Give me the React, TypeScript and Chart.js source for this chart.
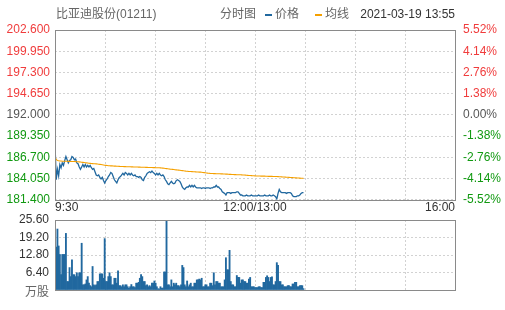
import React, { useEffect, useRef } from 'react';
import { Chart, registerables } from 'chart.js';

Chart.register(...registerables);

const FONT = '"Liberation Sans", Arial, "Noto Sans CJK SC", sans-serif';

const stockTitle = '比亚迪股份(01211)';
const chartKind = '分时图';
const legendPrice = '价格';
const legendAvg = '均线';
const stampText = '2021-03-19 13:55';
const volUnit = '万股';

const timeLabels = ['9:30', '12:00/13:00', '16:00'];
const totalSlots = 330;
const prevClose = 192.0;

const priceTicks = [181.4, 184.05, 186.7, 189.35, 192.0, 194.65, 197.3, 199.95, 202.6];
const priceTickLabels = ['181.400', '184.050', '186.700', '189.350', '192.000', '194.650', '197.300', '199.950', '202.600'];
const pctTicks = [-5.52, -4.14, -2.76, -1.38, 0, 1.38, 2.76, 4.14, 5.52];
const pctTickLabels = ['-5.52%', '-4.14%', '-2.76%', '-1.38%', '0.00%', '1.38%', '2.76%', '4.14%', '5.52%'];
const volTicks = [0, 6.4, 12.8, 19.2, 25.6];
const volTickLabels = ['', '6.40', '12.80', '19.20', '25.60'];

const price = [
  188.5, 183.9, 185.2, 184.4, 185.8, 185.4, 186.0, 185.7, 186.3, 186.8,
  186.4, 186.0, 186.3, 186.4, 186.8, 186.7, 186.4, 186.5, 186.0, 185.9,
  185.5, 185.2, 185.5, 185.8, 185.5, 185.8, 185.5, 185.7, 185.5, 185.7,
  185.4, 185.2, 185.3, 184.9, 184.5, 184.4, 184.5, 184.2, 184.0, 184.2,
  183.8, 183.5, 183.8, 184.0, 184.3, 184.5, 184.8, 184.7, 184.3, 183.9,
  183.7, 183.5, 183.9, 184.2, 184.3, 184.5, 184.7, 184.5, 184.8, 184.7,
  184.5, 184.7, 184.5, 184.7, 184.5, 184.4, 184.5, 184.3, 184.3, 184.2,
  184.3, 184.2, 183.9, 183.8, 184.2, 184.4, 184.7, 184.8, 184.9, 184.8,
  185.0, 184.8, 184.7, 184.5, 184.7, 184.5, 184.7, 184.5, 184.4, 184.5,
  184.3, 183.9, 183.7, 183.4, 183.3, 183.5, 183.7, 183.5, 183.4, 183.5,
  183.8, 183.9, 183.8, 183.7, 183.4, 183.0, 182.8, 182.7, 182.9, 183.0,
  183.0, 183.2, 183.0, 183.2, 183.0, 183.2, 183.0, 182.9, 182.9, 182.9,
  182.9, 182.8, 182.9, 182.9, 182.8, 182.9, 182.9, 182.9, 182.8, 182.9,
  182.9, 183.0, 183.0, 183.2, 183.0, 183.0, 182.8, 182.7, 182.4, 182.3,
  182.2, 182.0, 182.3, 182.3, 182.3, 182.2, 182.3, 182.3, 182.3, 182.3,
  182.4, 182.4, 182.2, 182.0, 182.0, 181.9, 181.9, 181.9, 182.0, 181.9,
  181.9, 181.9, 182.0, 181.9, 181.9, 181.9, 181.9, 181.9, 182.0, 181.9,
  181.9, 181.9, 181.9, 182.0, 181.9, 181.9, 181.9, 182.0, 181.9, 181.9,
  182.0, 181.9, 181.8, 181.5, 182.2, 182.7, 182.4, 182.3, 182.3, 182.3,
  182.3, 182.2, 182.3, 182.3, 182.3, 182.2, 181.9, 181.8, 181.8, 181.8,
  181.9, 181.9, 182.0, 182.2, 182.3, 182.3,
];

const avgPrice = [
  186.80, 186.45, 186.30, 186.28, 186.25, 186.24, 186.22, 186.22, 186.21, 186.21,
  186.21, 186.20, 186.20, 186.19, 186.19, 186.18, 186.18, 186.17, 186.16, 186.15,
  186.13, 186.11, 186.09, 186.07, 186.05, 186.03, 186.01, 185.99, 185.97, 185.95,
  185.93, 185.92, 185.91, 185.90, 185.88, 185.86, 185.84, 185.82, 185.80, 185.78,
  185.75, 185.72, 185.70, 185.68, 185.66, 185.65, 185.64, 185.63, 185.62, 185.61,
  185.60, 185.59, 185.58, 185.57, 185.56, 185.55, 185.55, 185.54, 185.54, 185.53,
  185.53, 185.52, 185.52, 185.51, 185.51, 185.50, 185.50, 185.49, 185.49, 185.48,
  185.48, 185.47, 185.47, 185.46, 185.46, 185.45, 185.45, 185.44, 185.44, 185.43,
  185.43, 185.42, 185.42, 185.41, 185.41, 185.40, 185.40, 185.39, 185.37, 185.35,
  185.33, 185.31, 185.29, 185.27, 185.25, 185.23, 185.22, 185.20, 185.18, 185.16,
  185.14, 185.12, 185.10, 185.08, 185.06, 185.04, 185.02, 185.00, 184.98, 184.97,
  184.95, 184.94, 184.93, 184.92, 184.91, 184.90, 184.89, 184.88, 184.87, 184.86,
  184.85, 184.83, 184.81, 184.79, 184.77, 184.75, 184.73, 184.72, 184.70, 184.69,
  184.68, 184.67, 184.67, 184.66, 184.66, 184.65, 184.65, 184.64, 184.64, 184.63,
  184.62, 184.61, 184.60, 184.59, 184.58, 184.57, 184.56, 184.55, 184.54, 184.54,
  184.53, 184.53, 184.52, 184.52, 184.51, 184.50, 184.49, 184.48, 184.46, 184.45,
  184.44, 184.43, 184.42, 184.41, 184.40, 184.39, 184.38, 184.38, 184.37, 184.37,
  184.36, 184.36, 184.35, 184.35, 184.34, 184.34, 184.33, 184.33, 184.32, 184.32,
  184.31, 184.31, 184.30, 184.30, 184.29, 184.28, 184.27, 184.26, 184.25, 184.24,
  184.23, 184.22, 184.21, 184.20, 184.19, 184.18, 184.17, 184.16, 184.15, 184.14,
  184.13, 184.12, 184.11, 184.10, 184.09, 184.08,
];

const volume = [
  15.7, 15.7, 22.3, 16.1, 13.0, 5.6, 13.0, 13.0, 13.0, 20.7,
  3.1, 3.1, 8.2, 4.9, 11.0, 5.6, 5.6, 4.9, 6.3, 4.9,
  6.3, 6.3, 17.1, 1.9, 1.9, 2.2, 3.7, 4.9, 2.5, 1.6,
  1.2, 8.6, 1.9, 1.6, 1.9, 3.1, 3.1, 5.9, 5.9, 5.9,
  4.3, 18.8, 3.1, 3.1, 4.9, 6.3, 4.9, 1.9, 1.9, 4.3,
  4.3, 2.5, 7.0, 1.6, 1.6, 1.2, 1.9, 1.2, 1.9, 1.9,
  1.2, 0.6, 1.2, 2.0, 1.2, 1.2, 0.9, 2.5, 2.5, 2.8,
  4.3, 5.6, 4.9, 3.1, 3.1, 1.6, 1.9, 1.2, 1.6, 1.2,
  2.5, 2.5, 3.3, 2.5, 1.2, 0.4, 0.4, 1.2, 0.7, 0.7,
  6.6, 6.6, 25.6, 1.9, 1.9, 1.2, 3.7, 1.2, 2.5, 1.9,
  2.5, 1.6, 1.6, 1.2, 1.9, 9.0, 8.2, 1.9, 1.2, 3.3,
  1.2, 1.9, 2.5, 1.2, 1.2, 2.5, 2.5, 3.7, 3.7, 4.0,
  3.7, 4.3, 1.2, 1.2, 1.9, 1.9, 1.2, 1.2, 2.5, 2.5,
  1.6, 6.3, 1.9, 3.1, 3.1, 2.5, 2.5, 1.2, 1.2, 1.2,
  3.7, 11.8, 7.4, 7.4, 14.5, 3.1, 1.9, 1.9, 1.2, 1.2,
  5.3, 4.6, 4.6, 2.5, 3.7, 3.7, 3.1, 3.1, 2.5, 2.5,
  4.0, 4.6, 1.2, 1.2, 1.2, 0.9, 0.9, 0.9, 1.2, 1.2,
  0.9, 0.9, 2.8, 2.8, 4.6, 5.2, 4.6, 3.1, 4.6, 4.8,
  1.9, 1.9, 3.1, 10.0, 9.0, 3.1, 3.1, 1.9, 1.9, 1.2,
  1.2, 1.2, 1.6, 1.6, 1.2, 1.2, 2.2, 2.2, 2.8, 2.8,
  1.2, 1.2, 1.6, 1.6, 1.6, 0.5,
];

const BLUE = '#21689f';
const ORANGE = '#f5a000';
const RED = '#f03c3c';
const GREEN = '#119911';
const NEUTRAL = '#555555';
const GRID = '#d2d2d2';
const FRAME = '#8a8a8a';

const gridDivs = 8;
const xGridTicks = Array.from({ length: gridDivs + 1 }, (_, k) => (k * totalSlots) / gridDivs);

const framePlugin = {
  id: 'frame',
  afterDraw(chart: any) {
    const { ctx, chartArea } = chart;
    const l = Math.round(chartArea.left);
    const t = Math.round(chartArea.top);
    const r = Math.round(chartArea.right);
    const b = Math.round(chartArea.bottom);
    ctx.save();
    ctx.strokeStyle = FRAME;
    ctx.lineWidth = 1;
    ctx.strokeRect(l + 0.5, t + 0.5, r - l, b - t);
    ctx.restore();
  },
};

const headerPlugin = {
  id: 'header',
  afterDraw(chart: any) {
    const { ctx } = chart;
    ctx.save();
    ctx.font = `12px ${FONT}`;
    ctx.textBaseline = 'middle';
    ctx.textAlign = 'left';
    ctx.fillStyle = '#666666';
    const y = 15;
    ctx.fillText(stockTitle, 56, y);
    ctx.fillText(chartKind, 220, y);
    ctx.fillStyle = BLUE;
    ctx.fillRect(265, 14, 7, 2);
    ctx.fillStyle = '#666666';
    ctx.fillText(legendPrice, 275, y);
    ctx.fillStyle = ORANGE;
    ctx.fillRect(315, 14, 7, 2);
    ctx.fillStyle = '#666666';
    ctx.fillText(legendAvg, 325, y);
    ctx.textAlign = 'right';
    ctx.fillStyle = '#333333';
    ctx.fillText(stampText, 455, y);
    ctx.restore();
  },
};

const unitPlugin = {
  id: 'unit',
  afterDraw(chart: any) {
    const { ctx, chartArea } = chart;
    ctx.save();
    ctx.font = `12px ${FONT}`;
    ctx.textBaseline = 'middle';
    ctx.textAlign = 'right';
    ctx.fillStyle = '#666666';
    ctx.fillText(volUnit, chartArea.left - 6, chartArea.bottom + 3);
    ctx.restore();
  },
};

const colorFor = (v: number, base: number) =>
  Math.abs(v - base) < 1e-6 ? NEUTRAL : v > base ? RED : GREEN;

export default function App() {
  const topRef = useRef<HTMLCanvasElement>(null);
  const volRef = useRef<HTMLCanvasElement>(null);

  useEffect(() => {
    Chart.defaults.font.family = FONT;
    Chart.defaults.font.size = 12;

    const xCommon = (showLabels: boolean, height: number) => ({
      type: 'linear' as const,
      min: 0,
      max: totalSlots,
      offset: false,
      afterBuildTicks: (s: any) => {
        s.ticks = xGridTicks.map((v) => ({ value: v }));
      },
      afterFit: (s: any) => {
        s.height = height;
      },
      ticks: {
        display: showLabels,
        autoSkip: false,
        maxRotation: 0,
        minRotation: 0,
        align: 'inner' as const,
        padding: 1,
        color: '#333333',
        callback: (_v: any, i: number) => (i % 4 === 0 ? timeLabels[i / 4] : ''),
      },
      grid: { color: GRID, drawTicks: false, offset: false, lineWidth: 1 },
      border: { display: false, dash: [2, 2] },
    });

    const top = new Chart(topRef.current!, {
      type: 'line',
      data: {
        datasets: [
          {
            label: legendAvg,
            data: avgPrice.map((v, i) => ({ x: i, y: v })),
            borderColor: ORANGE,
            borderWidth: 1.1,
            pointRadius: 0,
            tension: 0,
            yAxisID: 'y',
          },
          {
            label: legendPrice,
            data: price.map((v, i) => ({ x: i, y: v })),
            borderColor: BLUE,
            borderWidth: 1.3,
            pointRadius: 0,
            tension: 0,
            yAxisID: 'y',
          },
        ],
      },
      options: {
        animation: false,
        responsive: false,
        maintainAspectRatio: false,
        layout: { padding: { top: 30, left: 0, right: 0, bottom: 0 } },
        plugins: { legend: { display: false }, tooltip: { enabled: false } },
        scales: {
          x: xCommon(true, 15) as any,
          y: {
            type: 'linear',
            position: 'left',
            min: priceTicks[0],
            max: priceTicks[priceTicks.length - 1],
            afterBuildTicks: (s: any) => {
              s.ticks = priceTicks.map((v) => ({ value: v }));
            },
            afterFit: (s: any) => {
              s.width = 55;
            },
            ticks: {
              padding: 5,
              callback: (_v: any, i: number) => priceTickLabels[i],
              color: (c: any) => colorFor(c.tick.value, prevClose),
            },
            grid: { color: GRID, drawTicks: false, lineWidth: 1 },
            border: { display: false, dash: [2, 2] },
          },
          yr: {
            type: 'linear',
            position: 'right',
            min: pctTicks[0],
            max: pctTicks[pctTicks.length - 1],
            afterBuildTicks: (s: any) => {
              s.ticks = pctTicks.map((v) => ({ value: v }));
            },
            afterFit: (s: any) => {
              s.width = 50;
            },
            ticks: {
              padding: 8,
              callback: (_v: any, i: number) => pctTickLabels[i],
              color: (c: any) => colorFor(c.tick.value, 0),
            },
            grid: { display: false, drawTicks: false },
            border: { display: false },
          },
        },
      },
      plugins: [framePlugin, headerPlugin],
    });

    const vol = new Chart(volRef.current!, {
      type: 'bar',
      data: {
        datasets: [
          {
            label: volUnit,
            data: volume.map((v, i) => ({ x: i, y: v })),
            backgroundColor: BLUE,
            borderWidth: 0,
            barPercentage: 1,
            categoryPercentage: 1,
          },
        ],
      },
      options: {
        animation: false,
        responsive: false,
        maintainAspectRatio: false,
        layout: { padding: { top: 20, left: 0, right: 50, bottom: 0 } },
        plugins: { legend: { display: false }, tooltip: { enabled: false } },
        scales: {
          x: xCommon(false, 20) as any,
          y: {
            type: 'linear',
            position: 'left',
            min: volTicks[0],
            max: volTicks[volTicks.length - 1],
            afterBuildTicks: (s: any) => {
              s.ticks = volTicks.map((v) => ({ value: v }));
            },
            afterFit: (s: any) => {
              s.width = 55;
            },
            ticks: {
              padding: 6,
              color: '#333333',
              callback: (_v: any, i: number) => volTickLabels[i],
            },
            grid: { color: GRID, drawTicks: false, lineWidth: 1 },
            border: { display: false, dash: [2, 2] },
          },
        },
      },
      plugins: [framePlugin, unitPlugin],
    });

    return () => {
      top.destroy();
      vol.destroy();
    };
  }, []);

  return (
    <div style={{ position: 'absolute', left: 0, top: 0, width: 505, height: 310, background: '#fff' }}>
      <canvas ref={topRef} width={505} height={215} style={{ position: 'absolute', left: 0, top: 0 }} />
      <canvas ref={volRef} width={505} height={110} style={{ position: 'absolute', left: 0, top: 200 }} />
    </div>
  );
}
